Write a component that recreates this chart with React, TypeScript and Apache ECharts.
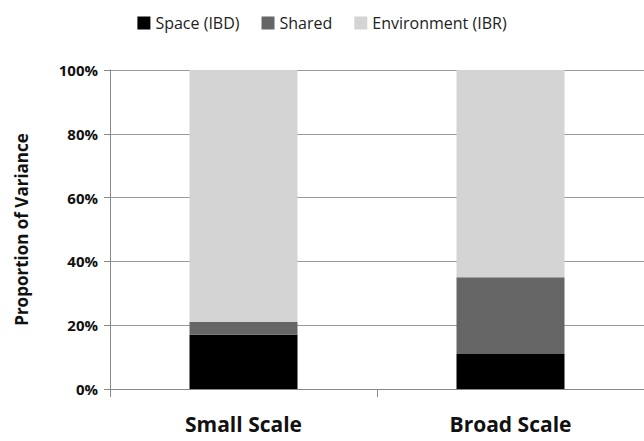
import React, { useEffect, useRef } from "react";
import * as echarts from "echarts";

const categories = ["Small Scale", "Broad Scale"];
const spaceIBD = [17, 11];
const shared = [4, 24];
const environmentIBR = [79, 65];
const yTicks = [0, 20, 40, 60, 80, 100];

export default function App() {
  const ref = useRef<HTMLDivElement>(null);
  useEffect(() => {
    const chart = echarts.init(ref.current!, null, { renderer: "svg" });
    const font = "'Open Sans', 'DejaVu Sans', sans-serif";
    chart.setOption({
      animation: false,
      textStyle: { fontFamily: font },
      legend: {
        top: 10,
        left: "center",
        icon: "rect",
        itemWidth: 13,
        itemHeight: 13,
        itemGap: 22,
        textStyle: { fontSize: 16, color: "#222", fontFamily: font },
        data: ["Space (IBD)", "Shared", "Environment (IBR)"],
      },
      grid: { left: 110, right: -5, top: 70, bottom: 52, containLabel: false },
      xAxis: {
        type: "category",
        data: categories,
        axisLine: { lineStyle: { color: "#888" } },
        axisTick: { show: true, length: 8, lineStyle: { color: "#888" } },
        axisLabel: { fontSize: 21, fontWeight: "bold", color: "#111", margin: 24, fontFamily: font },
      },
      yAxis: {
        type: "value",
        min: 0,
        max: 100,
        interval: 20,
        name: "Proportion of Variance",
        nameLocation: "middle",
        nameGap: 80,
        nameTextStyle: { fontSize: 17, fontWeight: "bold", color: "#111", fontFamily: font },
        axisLine: { show: true, lineStyle: { color: "#888" } },
        axisTick: { show: true, length: 6, lineStyle: { color: "#888" } },
        axisLabel: {
          fontSize: 15,
          fontWeight: "bold",
          color: "#111",
          margin: 12,
          formatter: (v: number) => (yTicks.includes(v) ? v + "%" : ""),
        },
        splitLine: { lineStyle: { color: "#999" } },
      },
      series: [
        { name: "Space (IBD)", type: "bar", stack: "a", data: spaceIBD, barWidth: 108, itemStyle: { color: "#000" } },
        { name: "Shared", type: "bar", stack: "a", data: shared, itemStyle: { color: "#666" } },
        { name: "Environment (IBR)", type: "bar", stack: "a", data: environmentIBR, itemStyle: { color: "#d4d4d4" } },
      ],
    });
    return () => chart.dispose();
  }, []);
  return <div ref={ref} style={{ position: "fixed", left: 0, top: 0, width: 644, height: 441, background: "#fff" }} />;
}
